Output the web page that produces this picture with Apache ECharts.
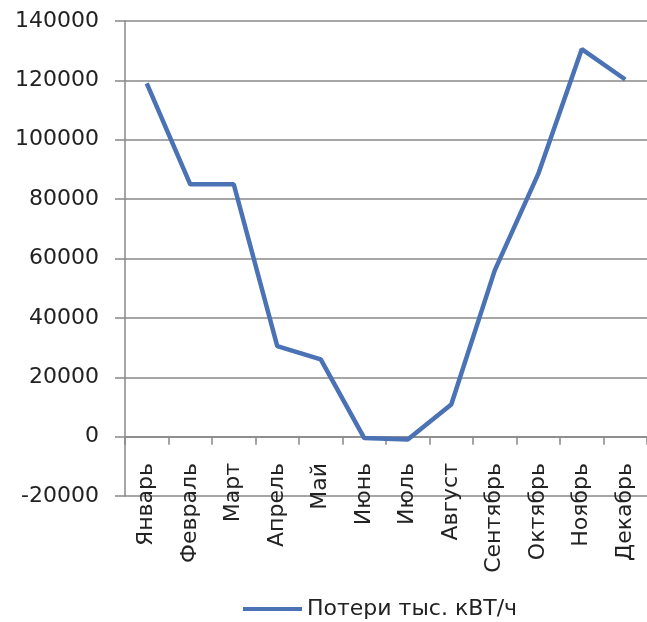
<!DOCTYPE html>
<html>
<head>
<meta charset="utf-8">
<script src="https://cdn.jsdelivr.net/npm/echarts@6/dist/echarts.min.js"></script>
<style>
html, body { margin: 0; padding: 0; background: #fff; }
#chart { width: 647px; height: 622px; }
</style>
</head>
<body>
<div id="chart"></div>
<script>
// месяцы и потери
var months = ['Январь', 'Февраль', 'Март', 'Апрель', 'Май', 'Июнь', 'Июль', 'Август', 'Сентябрь', 'Октябрь', 'Ноябрь', 'Декабрь'];
var losses = [119000, 85000, 85000, 30500, 26000, -500, -1000, 10800, 56000, 88500, 130500, 120300];
var seriesName = 'Потери тыс. кВТ/ч';

var myChart = echarts.init(document.getElementById('chart'));
var option = {
	animation: false,
	backgroundColor: '#fff',
	textStyle: { fontFamily: 'DejaVu Sans' },
	grid: { left: 125, top: 21, width: 524, height: 475 },
	legend: {
		top: 598,
		left: 243,
		padding: 0,
		data: [seriesName],
		itemWidth: 59,
		itemHeight: 4,
		itemGap: 6,
		icon: 'rect',
		textStyle: { fontSize: 22, color: '#222', fontFamily: 'DejaVu Sans' }
	},
	xAxis: {
		type: 'category',
		data: months,
		boundaryGap: true,
		axisLine: { onZero: true, lineStyle: { color: '#888', width: 1.5 } },
		axisTick: { show: true, length: 8, lineStyle: { color: '#888', width: 1.5 } },
		axisLabel: { rotate: 90, fontSize: 22, color: '#222', margin: -33 }
	},
	yAxis: {
		type: 'value',
		min: -20000,
		max: 140000,
		interval: 20000,
		axisLine: { show: true, lineStyle: { color: '#888', width: 1.5 } },
		axisTick: { show: true, length: 10, lineStyle: { color: '#888', width: 1.5 } },
		axisLabel: {
			fontSize: 22, color: '#222', margin: 26,
			formatter: function (v) { return String(v); }
		},
		splitLine: { lineStyle: { color: '#888', width: 1.5 } }
	},
	series: [{
		name: seriesName,
		type: 'line',
		data: losses,
		symbol: 'none',
		lineStyle: { color: '#4a72b4', width: 4.5 },
		itemStyle: { color: '#4a72b4' }
	}]
};
myChart.setOption(option);
</script>
</body>
</html>
